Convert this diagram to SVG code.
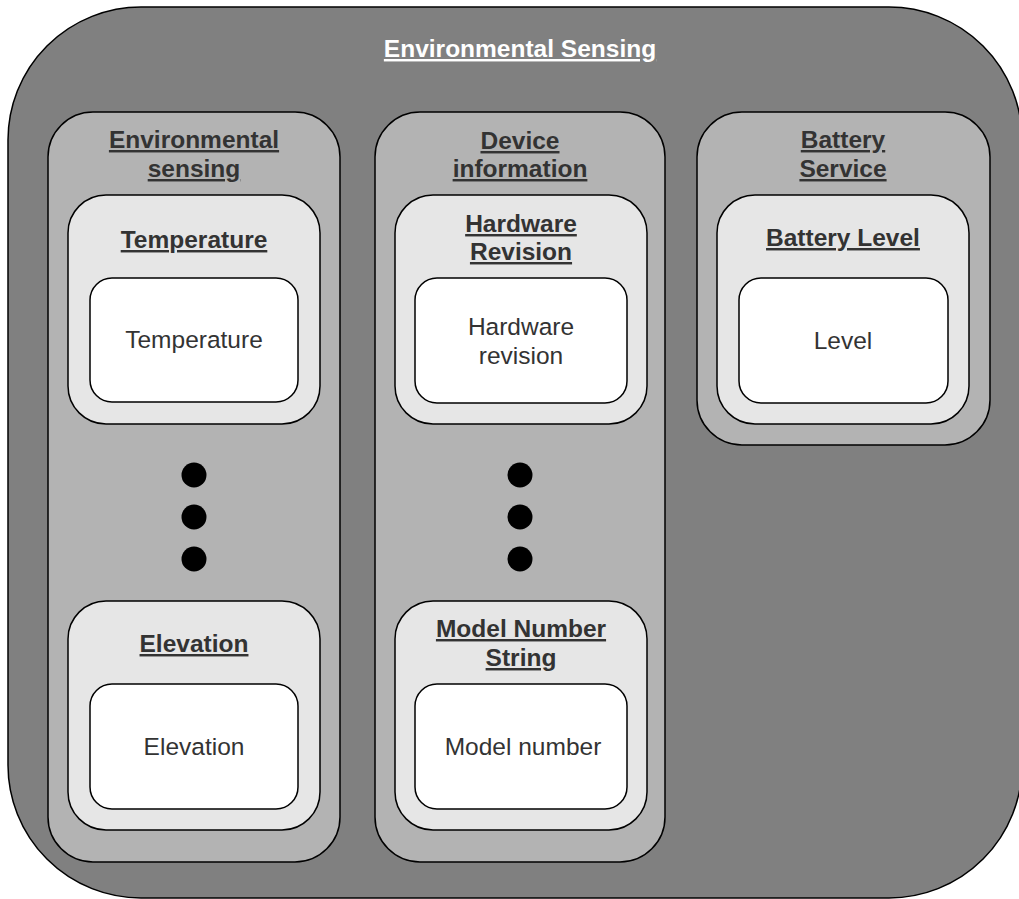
<svg xmlns="http://www.w3.org/2000/svg" width="1019" height="899" viewBox="0 0 1019 899">
<style>
.outer{fill:#808080;stroke:#000;stroke-width:1.5}
.col{fill:#b3b3b3;stroke:#000;stroke-width:1.5}
.char{fill:#e6e6e6;stroke:#000;stroke-width:1.5}
.val{fill:#fff;stroke:#000;stroke-width:1.5}
text{font-family:"Liberation Sans",Arial,sans-serif;font-size:24.5px;text-anchor:middle;fill:#333}
.t{font-weight:bold;text-decoration:underline}
.w{fill:#fff}
.dot{fill:#000}
</style>
<g id="outer">
<rect class="outer" x="8" y="7" width="1014" height="891" rx="133" ry="133"/>
<text class="t w" x="520" y="57">Environmental Sensing</text>
</g>
<g id="col-env">
<rect class="col" x="48" y="112" width="292" height="750" rx="45" ry="45"/>
<text class="t" x="194" y="148">Environmental</text>
<text class="t" x="194" y="177">sensing</text>
</g>
<g id="char-temp">
<rect class="char" x="68" y="195" width="252" height="229" rx="38" ry="38"/>
<text class="t" x="194" y="248">Temperature</text>
</g>
<g id="val-temp">
<rect class="val" x="90" y="278" width="208" height="124" rx="22" ry="22"/>
<text x="194" y="348">Temperature</text>
</g>
<g id="dots-env">
<circle class="dot" cx="194" cy="475" r="12.5"/>
<circle class="dot" cx="194" cy="517" r="12.5"/>
<circle class="dot" cx="194" cy="559" r="12.5"/>
</g>
<g id="char-elev">
<rect class="char" x="68" y="601" width="252" height="229" rx="38" ry="38"/>
<text class="t" x="194" y="652">Elevation</text>
</g>
<g id="val-elev">
<rect class="val" x="90" y="684" width="208" height="125" rx="22" ry="22"/>
<text x="194" y="755">Elevation</text>
</g>
<g id="col-dev">
<rect class="col" x="375" y="112" width="290" height="750" rx="45" ry="45"/>
<text class="t" x="520" y="149">Device</text>
<text class="t" x="520" y="177">information</text>
</g>
<g id="char-hw">
<rect class="char" x="395" y="195" width="252" height="229" rx="38" ry="38"/>
<text class="t" x="521" y="232">Hardware</text>
<text class="t" x="521" y="260">Revision</text>
</g>
<g id="val-hw">
<rect class="val" x="415" y="278" width="212" height="125" rx="22" ry="22"/>
<text x="521" y="335">Hardware</text>
<text x="521" y="364">revision</text>
</g>
<g id="dots-dev">
<circle class="dot" cx="520" cy="475" r="12.5"/>
<circle class="dot" cx="520" cy="517" r="12.5"/>
<circle class="dot" cx="520" cy="559" r="12.5"/>
</g>
<g id="char-model">
<rect class="char" x="395" y="601" width="252" height="229" rx="38" ry="38"/>
<text class="t" x="521" y="637">Model Number</text>
<text class="t" x="521" y="666">String</text>
</g>
<g id="val-model">
<rect class="val" x="415" y="684" width="212" height="125" rx="22" ry="22"/>
<text x="523" y="755">Model number</text>
</g>
<g id="col-bat">
<rect class="col" x="697" y="112" width="293" height="333" rx="45" ry="45"/>
<text class="t" x="843" y="148">Battery</text>
<text class="t" x="843" y="177">Service</text>
</g>
<g id="char-bat">
<rect class="char" x="717" y="195" width="252" height="229" rx="38" ry="38"/>
<text class="t" x="843" y="246">Battery Level</text>
</g>
<g id="val-bat">
<rect class="val" x="739" y="278" width="209" height="125" rx="22" ry="22"/>
<text x="843" y="349">Level</text>
</g>
<g id="connectors"/>
</svg>
